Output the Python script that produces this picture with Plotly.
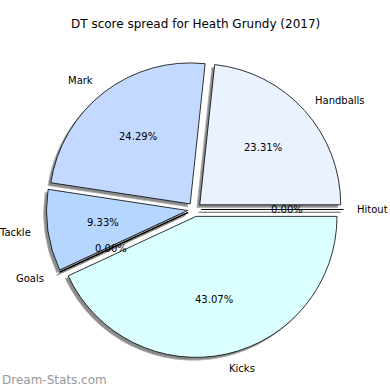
import math
import plotly.graph_objects as go

# ---- data ----
labels = ["Handballs", "Mark", "Tackle", "Goals", "Kicks", "Hitout"]
values = [23.31, 24.29, 9.33, 0.00, 43.07, 0.00]
colors = ["#EAF2FF", "#C4D9FF", "#B5D6FF", "#C8E6FF", "#DBFFFF", "#E0E0FF"]
title_text = "DT score spread for Heath Grundy (2017)"
watermark = "Dream-Stats.com"

# ---- geometry (pixels, figure is 390x390 with zero margins) ----
W = H = 390
CX, CY = 194.5, 209.5      # pie centre (from top-left)
R = 141.0                  # pie radius
PULL = 0.05
SH = 0.02 * R              # shadow offset (left & down)
BOX = R * (2 + 2 * PULL)   # plotly box side for given radius
SHADOW = "#8c8c8c"

def dom(cx, cy):
    return dict(x=[(cx - BOX / 2) / W, (cx + BOX / 2) / W],
                y=[1 - (cy + BOX / 2) / H, 1 - (cy - BOX / 2) / H])

# plotly draws clockwise from 3 o'clock with reversed order == matplotlib ccw from 0
rl = labels[::-1]
rv = values[::-1]
rc = colors[::-1]
pulls = [PULL] * len(values)

shadow = go.Pie(
    labels=rl, values=rv, sort=False, direction="clockwise",
    rotation=90, pull=pulls, textinfo="none", hoverinfo="skip",
    marker=dict(colors=[SHADOW] * len(values), line=dict(color="#b0b0b0", width=0.8)),
    domain=dom(CX - SH, CY + SH), showlegend=False,
)
main = go.Pie(
    labels=rl, values=rv, sort=False, direction="clockwise",
    rotation=90, pull=pulls, textinfo="none", hoverinfo="skip",
    marker=dict(colors=rc, line=dict(color="black", width=0.8)),
    domain=dom(CX, CY), showlegend=False,
)

fig = go.Figure([shadow, main])

def px2paper(x, y):
    return x / W, 1 - y / H

RT = R + 1.0   # effective rendered radius used for text placement
annotations = []
shapes = []
total = sum(values)
cum = 0.0
for lab, v in zip(labels, values):
    a0 = 360.0 * cum / total
    a1 = 360.0 * (cum + v) / total
    cum += v
    mid = math.radians((a0 + a1) / 2)
    c, s = math.cos(mid), math.sin(mid)
    ox, oy = CX + PULL * RT * c, CY - PULL * RT * s
    # percent text
    px, py = px2paper(ox + 0.6 * RT * c, oy - 0.6 * RT * s)
    annotations.append(dict(x=px, y=py, xref="paper", yref="paper",
                            text=f"{100 * v / total:.2f}%", showarrow=False,
                            xanchor="center", yanchor="middle",
                            font=dict(size=10, color="black")))
    # label text
    lx, ly = px2paper(ox + 1.1 * RT * c, oy - 1.1 * RT * s)
    annotations.append(dict(x=lx, y=ly, xref="paper", yref="paper",
                            text=lab, showarrow=False,
                            xanchor="left" if c > 0 else "right",
                            yanchor="middle",
                            xshift=-3 if c > 0 else 0,
                            font=dict(size=10, color="black")))
    if v == 0:
        for dx, dy, col in ((-SH, SH, SHADOW), (0, 0, "black")):
            x0, y0 = px2paper(ox + dx, oy + dy)
            x1, y1 = px2paper(ox + dx + RT * c, oy + dy - RT * s)
            shapes.append(dict(type="line", xref="paper", yref="paper",
                               x0=x0, y0=y0, x1=x1, y1=y1,
                               line=dict(color=col, width=1.2)))

annotations.append(dict(x=0.5, y=1 - 24 / H, xref="paper", yref="paper",
                        text=title_text, showarrow=False,
                        xanchor="center", yanchor="middle",
                        font=dict(size=12, color="black")))
annotations.append(dict(x=0, y=1 - 380 / H, xref="paper", yref="paper",
                        text=watermark, showarrow=False,
                        xanchor="left", yanchor="middle",
                        font=dict(size=12, color="#999999")))

fig.update_layout(
    width=W, height=H, margin=dict(l=0, r=0, t=0, b=0),
    paper_bgcolor="white", plot_bgcolor="white",
    font=dict(family="DejaVu Sans"),
    annotations=annotations, shapes=shapes, showlegend=False,
)

fig.write_html("out.html", config={"displayModeBar": False},
               post_script="document.body.style.margin='0';document.body.style.padding='0';")
